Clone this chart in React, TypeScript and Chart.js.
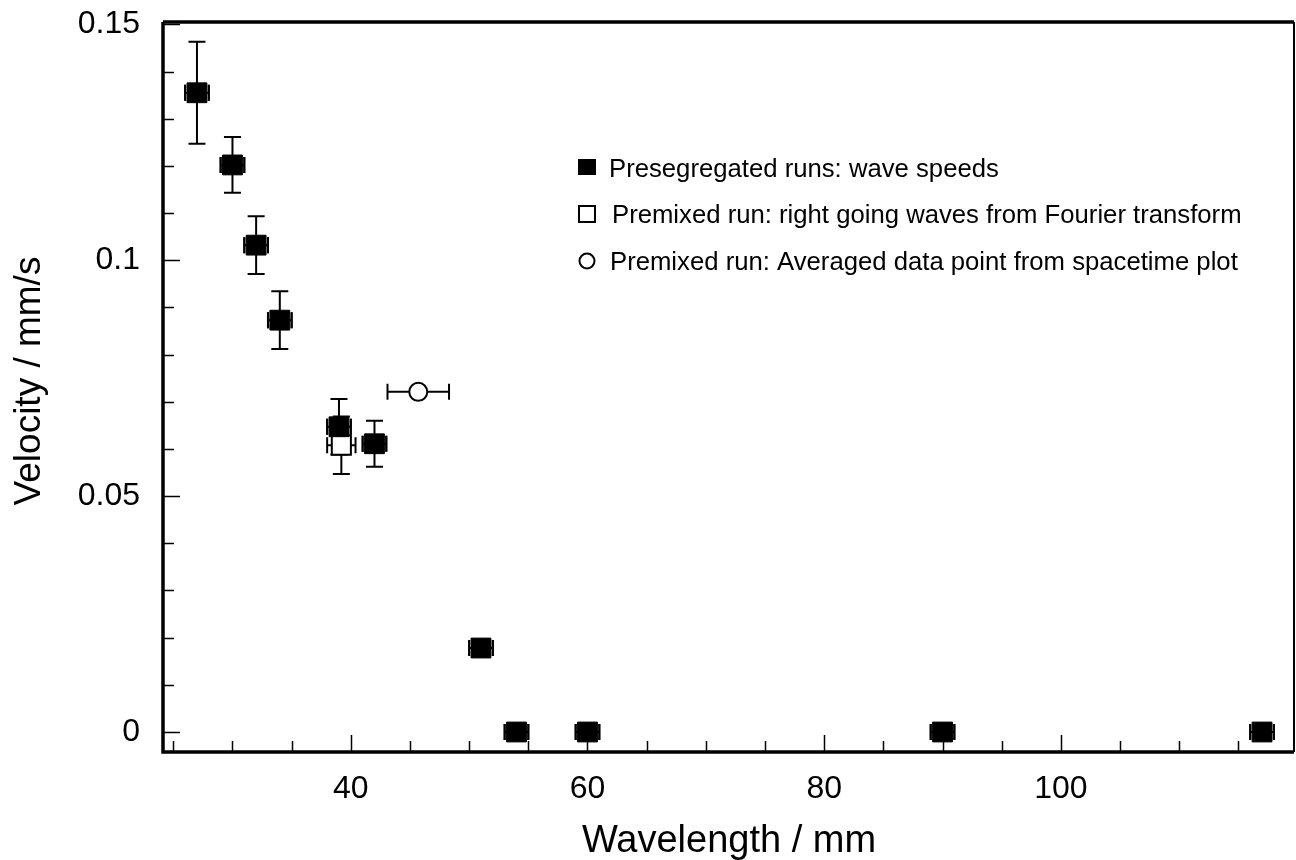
import React, { useEffect, useRef } from 'react';
import { Chart, registerables } from 'chart.js';

Chart.register(...registerables);

const FONT = '"Liberation Sans", Arial, Helvetica, sans-serif';

// Presegregated runs: wave speeds
const segWavelength = [27, 30, 32, 34, 39, 42, 51, 54, 60, 90, 117];
const segVelocity = [0.1355, 0.1202, 0.1032, 0.0873, 0.0647, 0.0611, 0.0178, 0, 0, 0, 0];
const segVelocityErr = [0.0108, 0.0059, 0.0061, 0.0061, 0.0059, 0.0049, 0, 0, 0, 0, 0];
const segWavelengthErr = [1, 1, 1, 1, 1, 1, 1, 1, 1, 1, 1];

// Premixed run: right going waves from Fourier transform
const fourierWavelength = [39.2];
const fourierVelocity = [0.0608];
const fourierVelocityErr = [0.0061];
const fourierWavelengthErr = [1.2];

// Premixed run: averaged data point from spacetime plot
const spacetimeWavelength = [45.7];
const spacetimeVelocity = [0.0721];
const spacetimeVelocityErr = [0];
const spacetimeWavelengthErr = [2.6];

const xMajorTicks = [40, 60, 80, 100];
const xTickLabels = ['40', '60', '80', '100'];
const xMinorTicks = [25, 30, 35, 45, 50, 55, 65, 70, 75, 85, 90, 95, 105, 110, 115];
const yMajorTicks = [0, 0.05, 0.1, 0.15];
const yTickLabels = ['0', '0.05', '0.1', '0.15'];
const yMinorTicks = [0.01, 0.02, 0.03, 0.04, 0.06, 0.07, 0.08, 0.09, 0.11, 0.12, 0.13, 0.14];

const legendLabels = [
  'Presegregated runs: wave speeds',
  'Premixed run: right going waves from Fourier transform',
  'Premixed run: Averaged data point from spacetime plot',
];
const xTitle = 'Wavelength / mm';
const yTitle = 'Velocity / mm/s';

const toPoints = (xs: number[], ys: number[], xe: number[], ye: number[]) =>
  xs.map((x, i) => ({ x, y: ys[i], xErr: xe[i], yErr: ye[i] }));

const errorBarPlugin = {
  id: 'errorBars',
  beforeDatasetsDraw(chart: any) {
    const ctx = chart.ctx;
    const xs = chart.scales.x;
    const ys = chart.scales.y;
    ctx.save();
    ctx.strokeStyle = '#000';
    ctx.lineWidth = 2;
    chart.data.datasets.forEach((ds: any) => {
      ds.data.forEach((p: any) => {
        const px = xs.getPixelForValue(p.x);
        const py = ys.getPixelForValue(p.y);
        if (p.yErr > 0) {
          const top = ys.getPixelForValue(p.y + p.yErr);
          const bot = ys.getPixelForValue(p.y - p.yErr);
          ctx.beginPath();
          ctx.moveTo(px, top);
          ctx.lineTo(px, bot);
          ctx.moveTo(px - 8.5, top);
          ctx.lineTo(px + 8.5, top);
          ctx.moveTo(px - 8.5, bot);
          ctx.lineTo(px + 8.5, bot);
          ctx.stroke();
        }
        if (p.xErr > 0) {
          const l = xs.getPixelForValue(p.x - p.xErr);
          const r = xs.getPixelForValue(p.x + p.xErr);
          ctx.beginPath();
          ctx.moveTo(l, py);
          ctx.lineTo(r, py);
          ctx.moveTo(l, py - 8);
          ctx.lineTo(l, py + 8);
          ctx.moveTo(r, py - 8);
          ctx.lineTo(r, py + 8);
          ctx.stroke();
        }
      });
    });
    ctx.restore();
  },
  afterDatasetsDraw(chart: any) {
    const ctx = chart.ctx;
    const xs = chart.scales.x;
    const ys = chart.scales.y;
    const ds = chart.data.datasets[0];
    ctx.save();
    ctx.strokeStyle = '#000';
    ctx.lineWidth = 2;
    ds.data.forEach((p: any) => {
      const py = ys.getPixelForValue(p.y);
      const l = xs.getPixelForValue(p.x - p.xErr);
      const r = xs.getPixelForValue(p.x + p.xErr);
      ctx.beginPath();
      ctx.moveTo(l, py - 8);
      ctx.lineTo(l, py + 8);
      ctx.moveTo(r, py - 8);
      ctx.lineTo(r, py + 8);
      ctx.stroke();
    });
    ctx.restore();
  },
};

const framePlugin = {
  id: 'frame',
  afterDraw(chart: any) {
    const ctx = chart.ctx;
    const a = chart.chartArea;
    const xs = chart.scales.x;
    const ys = chart.scales.y;
    ctx.save();
    ctx.strokeStyle = '#000';
    ctx.lineWidth = 1.5;
    ctx.beginPath();
    xMajorTicks.forEach((v) => {
      const px = Math.round(xs.getPixelForValue(v)) + 0.5;
      ctx.moveTo(px, a.bottom);
      ctx.lineTo(px, a.bottom - 17);
    });
    xMinorTicks.forEach((v) => {
      const px = Math.round(xs.getPixelForValue(v)) + 0.5;
      ctx.moveTo(px, a.bottom);
      ctx.lineTo(px, a.bottom - 11);
    });
    yMajorTicks.forEach((v) => {
      const py = Math.round(ys.getPixelForValue(v)) + 0.5;
      ctx.moveTo(a.left, py);
      ctx.lineTo(a.left + 17, py);
    });
    yMinorTicks.forEach((v) => {
      const py = Math.round(ys.getPixelForValue(v)) + 0.5;
      ctx.moveTo(a.left, py);
      ctx.lineTo(a.left + 11, py);
    });
    ctx.stroke();
    ctx.lineWidth = 3.5;
    ctx.beginPath();
    ctx.moveTo(a.left, a.top);
    ctx.lineTo(a.left, a.bottom);
    ctx.lineTo(a.right, a.bottom);
    ctx.moveTo(a.left, a.top);
    ctx.lineTo(a.right, a.top);
    ctx.stroke();
    ctx.lineWidth = 2;
    ctx.beginPath();
    ctx.moveTo(a.right, a.top);
    ctx.lineTo(a.right, a.bottom);
    ctx.stroke();

    ctx.fillStyle = '#000';
    ctx.font = `38px ${FONT}`;
    ctx.textAlign = 'center';
    ctx.textBaseline = 'alphabetic';
    ctx.fillText(xTitle, 729, 852);
    ctx.save();
    ctx.font = `37px ${FONT}`;
    ctx.translate(40, 381);
    ctx.rotate(-Math.PI / 2);
    ctx.fillText(yTitle, 0, 0);
    ctx.restore();

    const rows = [167, 214, 261];
    const mx = 587;
    ctx.lineWidth = 2;
    ctx.fillRect(mx - 9, rows[0] - 8, 18, 16);
    ctx.strokeRect(mx - 8, rows[1] - 8, 16, 16);
    ctx.beginPath();
    ctx.arc(mx, rows[2], 7.5, 0, Math.PI * 2);
    ctx.stroke();
    ctx.font = `25.7px ${FONT}`;
    ctx.textAlign = 'left';
    ctx.textBaseline = 'alphabetic';
    ctx.fillText(legendLabels[0], 609, rows[0] + 10);
    ctx.fillText(legendLabels[1], 612, rows[1] + 9);
    ctx.fillText(legendLabels[2], 610, rows[2] + 9);
    ctx.restore();
  },
};

export default function App() {
  const ref = useRef<HTMLCanvasElement | null>(null);

  useEffect(() => {
    if (!ref.current) return;
    const chart = new Chart(ref.current, {
      type: 'scatter',
      data: {
        datasets: [
          {
            label: legendLabels[0],
            data: toPoints(segWavelength, segVelocity, segWavelengthErr, segVelocityErr),
            pointStyle: 'rect',
            pointRadius: 14,
            pointHoverRadius: 14,
            backgroundColor: '#000',
            borderColor: '#000',
            borderWidth: 1,
            order: 1,
          },
          {
            label: legendLabels[1],
            data: toPoints(fourierWavelength, fourierVelocity, fourierWavelengthErr, fourierVelocityErr),
            pointStyle: 'rect',
            pointRadius: 13.5,
            pointHoverRadius: 13.5,
            backgroundColor: '#fff',
            borderColor: '#000',
            borderWidth: 2,
            order: 2,
          },
          {
            label: legendLabels[2],
            data: toPoints(spacetimeWavelength, spacetimeVelocity, spacetimeWavelengthErr, spacetimeVelocityErr),
            pointStyle: 'circle',
            pointRadius: 9,
            pointHoverRadius: 9,
            backgroundColor: '#fff',
            borderColor: '#000',
            borderWidth: 2,
            order: 3,
          },
        ] as any,
      },
      options: {
        responsive: false,
        animation: false,
        events: [],
        layout: { autoPadding: false, padding: { left: 0, top: 22, right: 2, bottom: 0 } },
        plugins: {
          legend: { display: false },
          tooltip: { enabled: false },
          title: { display: false },
        },
        scales: {
          x: {
            type: 'linear',
            min: 24.13,
            max: 119.7,
            grid: { display: false, drawTicks: false },
            border: { display: false },
            afterBuildTicks: (scale: any) => {
              scale.ticks = xMajorTicks.map((v) => ({ value: v }));
            },
            afterFit: (scale: any) => {
              scale.height = 108;
              scale.paddingLeft = 0;
              scale.paddingRight = 0;
              scale.paddingTop = 0;
              scale.paddingBottom = 0;
            },
            ticks: {
              autoSkip: false,
              maxRotation: 0,
              padding: 18,
              color: '#000',
              font: { family: FONT, size: 32 },
              callback: (v: any) => {
                const i = xMajorTicks.indexOf(Number(v));
                return i >= 0 ? xTickLabels[i] : '';
              },
            },
          },
          y: {
            type: 'linear',
            min: -0.00424,
            max: 0.1505,
            grid: { display: false, drawTicks: false },
            border: { display: false },
            afterBuildTicks: (scale: any) => {
              scale.ticks = yMajorTicks.map((v) => ({ value: v }));
            },
            afterFit: (scale: any) => {
              scale.width = 163;
              scale.paddingLeft = 0;
              scale.paddingRight = 0;
              scale.paddingTop = 0;
              scale.paddingBottom = 0;
            },
            ticks: {
              autoSkip: false,
              padding: 23,
              color: '#000',
              font: { family: FONT, size: 32 },
              callback: (v: any) => {
                const i = yMajorTicks.findIndex((t) => Math.abs(t - Number(v)) < 1e-9);
                return i >= 0 ? yTickLabels[i] : '';
              },
            },
          },
        },
      },
      plugins: [errorBarPlugin, framePlugin],
    });
    return () => chart.destroy();
  }, []);

  return (
    <div style={{ position: 'absolute', left: 0, top: 0, width: 1296, height: 860, background: '#fff' }}>
      <canvas ref={ref} width={1296} height={860} style={{ display: 'block' }} />
    </div>
  );
}
